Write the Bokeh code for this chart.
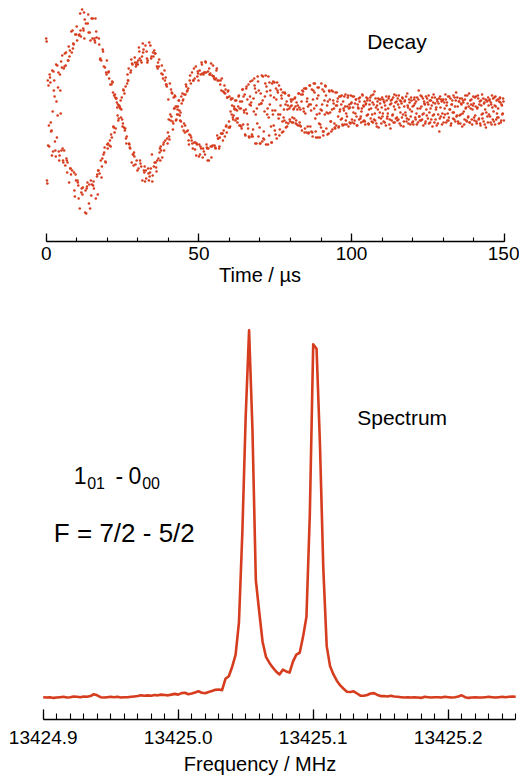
import numpy as np
from bokeh.plotting import figure
from bokeh.layouts import column
from bokeh.models import SingleIntervalTicker, PrintfTickFormatter, Label
from bokeh.embed import file_html
from bokeh.resources import INLINE

RED = "#d63c1e"
FONT = "Liberation Sans"

# ---------------- Decay (free induction decay)
# series A: samples every 0.25 us from 0 us
decay_a_t_first = 0.0
decay_a_t_last = 149.75
decay_a_signal = [
    72, -70, 30, 25, -36, 33, -12, -20, 40, -41, 20, 14, -40, 46, -27, -5, 38, -50, 36, -3,
    -40, 55, -50, 42, 44, -55, 58, -50, -52, 50, -72, 60, -58, 79, -60, 62, 66, -80, 76, -70,
    84, -70, -75, 75, -98, 80, -82, 101, -77, 80, 72, -102, 87, -78, -72, 96, -93, 78, 70, -85,
    -74, 92, -71, 72, 68, -88, 73, -64, -60, 72, -63, 52, 50, -56, 61, -44, -42, 43, -52, 36,
    -34, -33, 39, -35, 26, -24, -27, 28, -16, 15, 16, -18, 12, 3, 6, -8, 4, 2, -7, 13,
    -16, 21, -17, -20, 24, -33, 27, 30, 42, -34, -38, 40, -52, 46, -44, -42, 53, -54, 46, 48,
    46, -58, 59, -50, 50, 48, -70, 58, -60, -56, 65, -68, 52, 50, -63, 68, -62, -58, 54, -71,
    58, -56, -52, 57, -57, 44, 42, -48, 51, -38, -36, 37, -47, 32, -32, 40, -30, 26, 24, -33,
    11, -26, 27, -10, -6, 17, -19, 13, 2, 14, -10, 4, 1, -4, 10, -5, -2, 14, -16, 10,
    -20, 16, -15, 26, -21, 20, 22, -34, 30, -25, -27, 38, -38, 30, -32, -39, 44, -33, 34, 37,
    -46, 40, -36, -38, 46, -47, 36, 38, -44, 48, -34, -38, 39, -50, 36, 37, 47, -36, -35, 34,
    32, 31, -38, 40, -25, -28, 30, -36, 26, -23, 32, -23, 19, 18, -26, 21, -15, 13, 19, -17,
    14, -16, 11, -4, 12, -9, 4, 1, -10, 10, 0, -8, 14, -15, 9, 2, -18, 21, -14, 0,
    16, -25, 22, -3, -14, 26, -27, 14, 5, -26, 30, -19, -1, 25, -33, 18, 2, 34, -26, 6,
    -33, 17, 7, -31, 34, -21, -1, 27, -34, 19, 2, 34, -25, 6, 15, -32, 27, -4, -15, 28,
    0, 22, -28, 20, -4, 25, -19, 5, 15, -22, 18, -7, -10, 17, -17, 9, 1, -13, 15, -9,
    4, 9, -12, 11, 1, -8, 13, -13, 8, 1, -15, 17, -12, 1, 16, -20, 16, 2, 22, -18,
    22, -22, 12, 4, -22, 25, -16, 0, 21, -26, 20, 2, 27, -21, 5, 12, -27, 23, -3, -14,
    -17, 0, 21, -25, 19, -4, 24, -18, 5, 9, -23, 19, -2, -11, 20, -19, 10, 2, -17, 18,
    -15, 5, 12, -17, 14, 1, -9, 15, -14, 9, 0, -14, 16, -3, -6, 13, -16, 6, 3, 15,
    8, -12, 3, 14, -10, -3, 11, -15, 6, 2, -9, 13, -6, -1, 16, -11, 4, 9, -14, 7,
    -5, 12, -13, 1, 10, -8, 15, -4, -12, 6, 19, -10, 3, -16, 9, 12, -7, -2, 11, -13,
    13, -3, -11, 8, 5, -15, 10, -6, 2, 14, -9, -18, 7, 11, -4, -12, 16, 1, -8, 9,
    -10, 6, 15, -13, -2, 9, -7, 12, -16, 4, 10, -5, -11, 17, 3, -9, 8, -14, 13, -1,
    4, -14, 11, 7, -9, -3, 13, -12, 20, -6, 2, -10, 14, -4, -15, 9, 6, -11, 1, 12,
    -8, 15, -2, -12, 10, 5, -16, 8, -4, 13, -9, 3, 11, -13, 7, -21, 14, -6, 9, -3,
    11, -7, 2, 16, -12, 8, -3, -10, 14, 1, -15, 6, 10, -8, -2, 13, -11, 18, -5, 4,
    -13, 9, 12, -4, 6, -16, 10, -1, -9, 15, 3, -11, 7, -6, 17, -12, 2, 11, -14, 5,
    7, -10, -5, 14, -13, 3, 12, -8, 9, -15, 5, 16, -3, -11, 8, 1, -17, 10, -6, 13,
    -4, 11, -12, 6, 15, -9, -1, 13, -14, 4, 10, -7, 2, -13, 12, 8, -10, 5, -3, 9,
]
# series B: samples every 0.25 us from 0.125 us
decay_b_t_first = 0.125
decay_b_t_last = 149.875
decay_b_signal = [
    69, -73, -35, -15, 36, 28, -21, -45, -1, 39, 30, -31, -46, 9, 45, 23, -41, -45, 20, 49,
    43, -38, -52, -40, 57, 45, -48, -62, 50, 64, 54, -58, -64, 58, 80, 67, -62, -86, -64, 76,
    70, -72, -88, 76, 97, 74, -78, -84, 82, 98, 91, -80, -103, -76, 87, 78, -74, -98, -70, 92,
    72, -75, -78, 70, 92, 79, -66, -84, -60, 66, 51, -50, -67, -48, 59, 44, -37, -51, 38, 50,
    -38, 38, 32, -30, -36, 26, 29, 18, -17, -22, 13, 12, 8, -5, -10, 5, 3, 10, 1, -9,
    -13, 20, 17, -18, -28, -26, 36, 30, -33, -37, 38, 51, 47, -44, -55, -46, 48, 44, -50, -60,
    50, 63, 52, -53, -56, 54, 67, 61, -62, -71, -60, 59, 48, -58, -70, -66, 65, 52, -44, -65,
    54, 60, 57, -52, -61, -50, 48, 44, -42, -50, -40, 45, 36, -34, -40, 30, 33, 26, -28, -22,
    -9, -29, -4, 21, 18, -11, -13, 2, 15, 4, -9, -4, 4, 10, 0, -10, -11, 7, 17, 11,
    -13, -22, 16, 24, 19, -20, -30, -24, 35, 27, -30, -33, 30, 42, 32, -32, -45, -34, 39, 30,
    -34, -44, 36, 48, 37, -38, -41, 38, 49, 38, -37, -50, -38, 42, 36, -36, -47, 35, 45, 34,
    -35, -37, 32, 42, 30, -28, -38, -27, 30, 20, -23, -30, -20, 25, 17, -16, -22, 13, 20, -11,
    -17, -1, 12, 5, -7, -5, 2, 10, 1, -8, -12, 4, 15, 2, -15, -16, 9, 21, 14, -2,
    -24, 1, 24, 11, -18, -26, 6, 29, 8, -24, -26, 12, 32, 22, -4, -33, -13, 29, 20, -17,
    -33, 7, 35, 10, -28, -29, 14, 35, 24, -4, -34, -7, 28, 20, -16, -32, 0, 29, 13, -20,
    -24, 11, 28, 18, -8, -25, -4, 21, 12, -11, -21, 1, 18, 6, -12, -16, 5, 15, 2, -11,
    11, 5, -7, -12, 2, 12, 4, -10, -14, 5, 17, 3, -15, -16, 9, 20, 19, -1, -22, -3,
    22, 9, -16, -23, 6, 25, 6, -21, -22, 11, 27, 18, -8, -27, -4, 23, 15, -13, -27, 1,
    27, 6, -21, -21, 10, 25, 15, -2, -24, -3, 20, 11, -11, -21, 1, 19, 7, -13, -18, 5,
    18, 9, -6, -16, -1, 14, 6, -8, -15, 2, 14, 4, -10, -14, 4, 15, 2, -12, -13, 7,
    -9, 14, -2, -13, 7, 11, -6, -15, 3, 12, 9, -8, -12, 2, 15, 5, -10, -11, 6, 13,
    10, -4, -14, 6, 13, 2, -11, 8, 16, -9, -3, 12, -13, 5, 1, -17, 11, 7, -8, 3,
    -6, 11, 9, -12, 1, 14, -8, -3, 12, -14, 6, 10, -10, -5, 13, 4, -12, 8, 15, -7,
    12, -9, 3, 10, -15, 7, 13, -4, -11, 9, -2, 14, -8, 5, -13, 11, 1, -6, 10, -12,
    -11, 5, 13, -7, 9, -14, 2, 11, -6, -10, 15, 4, -9, 12, -3, 7, -13, 14, -5, 8,
    6, -13, 10, 2, -9, 13, -5, 16, -12, 7, 1, -15, 9, -4, 12, -8, 3, 11, -14, 10,
    -12, 8, -4, 11, 5, -10, 14, -7, 1, 12, -13, 6, -2, 15, -9, 4, 10, -6, 13, -11,
    9, -5, -13, 7, 12, -3, 8, -14, 11, 2, -10, 15, -7, 4, -12, 10, 6, -9, 1, 14,
    -7, 13, 4, -11, 2, 15, -9, 6, -13, 10, -4, -8, 12, 7, -14, 11, -2, 9, -12, 5,
    10, -6, 8, -14, 3, 12, -11, 5, 14, -9, -3, 11, -7, 9, 13, -12, 6, -4, 12, -10,
]
decay_a_time = np.linspace(decay_a_t_first, decay_a_t_last, len(decay_a_signal))
decay_b_time = np.linspace(decay_b_t_first, decay_b_t_last, len(decay_b_signal))
decay_time = np.concatenate([decay_a_time, decay_b_time])
decay_signal = np.concatenate([decay_a_signal, decay_b_signal])

# ---------------- Spectrum, sampled every 0.0025 MHz from 13424.9 MHz
freq_first = 13424.9
freq_last = 13425.25
spectrum_intensity = [
    0.1, 0.0, 0.1, -0.1, 0.0, 0.1, 0.2, 0.0, 0.1, 0.3,
    0.2, 0.1, 0.3, 0.2, 0.4, 0.9, 0.6, 0.1, 0.0, 0.1,
    0.2, 0.1, 0.2, 0.0, 0.1, 0.1, 0.2, 0.3, 0.4, 0.6,
    0.5, 0.6, 0.5, 0.7, 0.6, 0.8, 0.7, 0.6, 0.8, 1.0,
    0.8, 1.2, 1.3, 0.9, 1.1, 1.4, 1.7, 1.3, 1.2, 1.5,
    1.8, 2.1, 2.2, 2.0, 5.1, 5.8, 8.4, 11.6, 20.5, 44.8,
    76.6, 100.0, 73.0, 32.0, 23.4, 15.2, 11.1, 9.5, 8.2, 7.1,
    6.3, 7.6, 7.1, 6.8, 9.8, 11.7, 12.2, 16.6, 22.0, 50.0,
    96.2, 95.0, 69.0, 35.0, 14.0, 8.5, 6.3, 4.6, 3.3, 2.4,
    1.6, 1.5, 1.7, 1.1, 0.5, 0.5, 0.7, 1.1, 1.2, 0.7,
    0.4, 0.4, 0.3, 0.5, 0.3, 0.2, 0.1, 0.0, 0.1, 0.0,
    0.1, 0.0, -0.1, 0.2, 0.1, 0.0, 0.1, 0.1, 0.0, 0.2,
    0.1, 0.0, 0.1, 0.3, 0.6, 0.1, -0.1, 0.0, 0.1, 0.0,
    0.0, 0.1, 0.2, 0.1, 0.0, 0.1, 0.2, 0.1, 0.2, 0.3,
    0.2,
]
spectrum_freq = np.linspace(freq_first, freq_last, len(spectrum_intensity))

time_label = "Time / \u00b5s"
freq_label = "Frequency / MHz"


def style_axis(ax, tick_in, minor_in, label_standoff, title_standoff):
    ax.axis_line_color = "black"
    ax.axis_line_width = 1.3
    ax.major_tick_line_color = "black"
    ax.minor_tick_line_color = "black"
    ax.major_tick_line_width = 1.3
    ax.minor_tick_line_width = 1.1
    ax.major_tick_in = tick_in
    ax.major_tick_out = 0
    ax.minor_tick_in = minor_in
    ax.minor_tick_out = 0
    ax.major_label_text_font = FONT
    ax.major_label_text_font_size = "19px"
    ax.major_label_text_color = "black"
    ax.major_label_standoff = label_standoff
    ax.major_label_text_line_height = 1.0
    ax.axis_label_text_font = FONT
    ax.axis_label_text_font_size = "20px"
    ax.axis_label_text_font_style = "normal"
    ax.axis_label_text_color = "black"
    ax.axis_label_standoff = title_standoff
    ax.axis_label_text_line_height = 1.0


# ---------------- Top: decay
p1 = figure(width=519, height=295, output_backend="svg", toolbar_location=None,
            x_range=(-14.97, 155.0), y_range=(-131, 110), y_axis_location=None,
            min_border_left=0, min_border_right=0, min_border_top=0, min_border_bottom=54)
p1.outline_line_color = None
p1.xgrid.visible = False
p1.ygrid.visible = False
p1.scatter(decay_time, decay_signal, size=2.6, marker="circle",
           fill_color=RED, line_color=None)
p1.xaxis.ticker = SingleIntervalTicker(interval=50, num_minor_ticks=5)
p1.xaxis.bounds = (0, 150)
p1.xaxis.axis_label = time_label
style_axis(p1.xaxis[0], 8, 4, 5, 1)
p1.add_layout(Label(x=105.1, y=69, text="Decay", text_font=FONT,
                    text_font_size="21px", text_baseline="alphabetic", text_color="black"))

# ---------------- Bottom: spectrum
p2 = figure(width=519, height=482, output_backend="svg", toolbar_location=None,
            x_range=(13424.86837, 13425.25281), y_range=(-5.98, 109.51), y_axis_location=None,
            min_border_left=0, min_border_right=0, min_border_top=0, min_border_bottom=57)
p2.outline_line_color = None
p2.xgrid.visible = False
p2.ygrid.visible = False
p2.line(spectrum_freq, spectrum_intensity, line_color=RED, line_width=2.6, line_join="round")
p2.xaxis.ticker = SingleIntervalTicker(interval=0.1, num_minor_ticks=10)
p2.xaxis.formatter = PrintfTickFormatter(format="%.1f")
p2.xaxis.bounds = (13424.8999, 13425.2501)
p2.xaxis.axis_label = freq_label
style_axis(p2.xaxis[0], 10, 6, 11, 6)

labels = [
    dict(x=13425.1326, y=76.4, text="Spectrum", size="21px"),
    dict(x=13424.9227, y=60.6, text="1", size="23px"),
    dict(x=13424.9326, y=58.5, text="01", size="16px"),
    dict(x=13424.9536, y=60.6, text="-", size="23px"),
    dict(x=13424.9632, y=60.6, text="0", size="23px"),
    dict(x=13424.9733, y=58.5, text="00", size="16px"),
    dict(x=13424.9079, y=44.9, text="F = 7/2 - 5/2", size="26px"),
]
for d in labels:
    p2.add_layout(Label(x=d["x"], y=d["y"], text=d["text"], text_font=FONT,
                        text_font_size=d["size"], text_baseline="alphabetic",
                        text_color="black"))

layout = column(p1, p2, spacing=0)
open("out.html", "w").write(file_html(layout, INLINE))
